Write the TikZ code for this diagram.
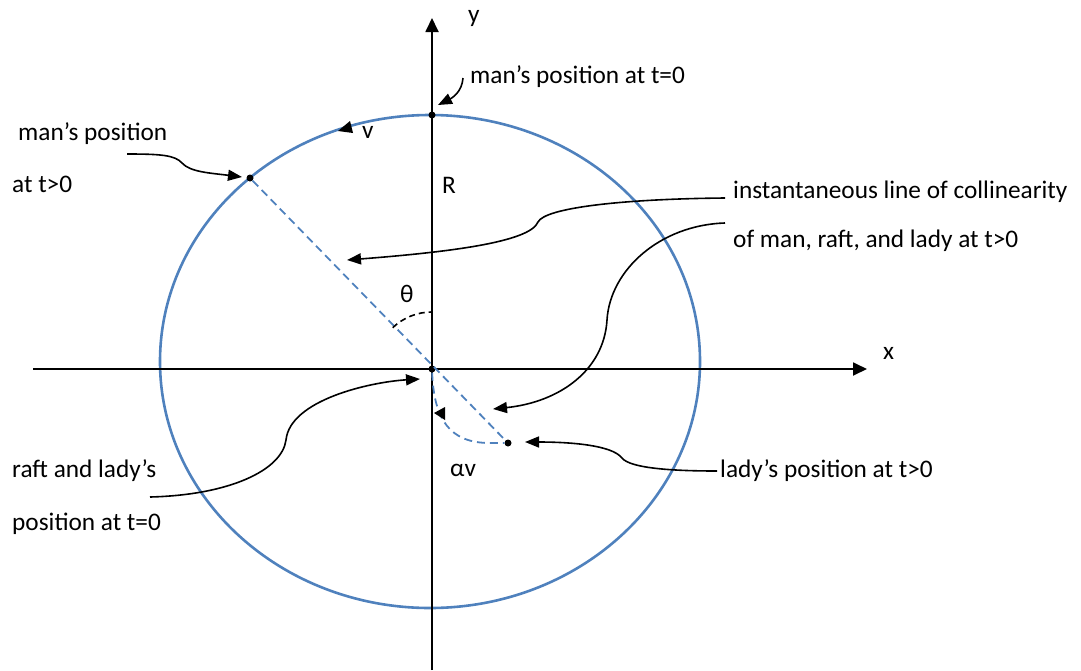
\documentclass[tikz,border=0pt]{standalone}
\usepackage{fontspec}
\setmainfont{Carlito}
\usetikzlibrary{arrows.meta}
\definecolor{RingBlue}{RGB}{79,129,189}

\tikzset{
  lbl/.style={anchor=base west, inner sep=0pt, font=\fontsize{25.3}{30}\selectfont},
  axis/.style={line width=1.8pt, -{Triangle[length=14pt,width=13pt]}},
  callout/.style={line width=1.6pt, -{Triangle[length=14pt,width=11pt]}},
  spot/.style={circle, fill=black, inner sep=0pt, minimum size=7pt},
}

\begin{document}
\begin{tikzpicture}[x=1pt, y=-1pt]
  \useasboundingbox (0,0) rectangle (1081,670);

  % Points
  \coordinate (O) at (432,369);
  \coordinate (xstart) at (33,369);
  \coordinate (xend) at (867,369);
  \coordinate (ystart) at (432,670);
  \coordinate (yend) at (432,18);

  % Circle of radius R
  \draw[RingBlue, line width=2.6pt] (430,361.5) ellipse [x radius=270, y radius=246.5];

  % Axes
  \draw[axis] (xstart) -- (xend);
  \draw[axis] (ystart) -- (yend);
  \node[lbl] (xlab) at (883,359) {x};
  \node[lbl] (ylab) at (468,22) {y};

  % Line of collinearity and lady's path
  \node[spot] (mzero) at (432,115) {};
  \node[spot] (mone) at (250,178) {};
  \node[spot] (raft) at (O) {};
  \node[spot] (lady) at (508,443) {};
  \draw[RingBlue, line width=1.8pt, dash pattern=on 8pt off 5pt] (mone) -- (lady);
  \draw[RingBlue, line width=1.8pt, dash pattern=on 8pt off 5pt]
    (raft) .. controls (434,420) and (450,443) .. (490,443) -- (lady);
  \fill (434,413) -- (445,407) -- (445,420) -- cycle;

  % Angle theta
  \draw[line width=1.6pt, dash pattern=on 6pt off 4pt] (392.7,327.7) arc[start angle=-133.6, end angle=-90, radius=57];
  \node[lbl] (theta) at (400,302) {θ};

  % Speeds and radius
  \fill (338,131) -- (350,121) -- (353,133) -- cycle;
  \node[lbl] (vlab) at (362,138) {v};
  \node[lbl] (Rlab) at (442,193) {R};
  \node[lbl] (avlab) at (450,476) {αv};

  % Labels
  \node[lbl] (mzerotxt) at (470,83) {man’s position at t=0};
  \node[lbl] (monetxt) at (18,140) {man’s position};
  \node[lbl] (monetxtb) at (12,192) {at t>0};
  \node[lbl] (coltxt) at (733,198) {instantaneous line of collinearity};
  \node[lbl] (coltxtb) at (733,247) {of man, raft, and lady at t>0};
  \node[lbl] (rafttxt) at (12,477) {raft and lady’s};
  \node[lbl] (rafttxtb) at (12,530) {position at t=0};
  \node[lbl] (ladytxt) at (720,477) {lady’s position at t>0};

  % Callout arrows
  \coordinate (c1) at (463,78);   \coordinate (t1) at (438,105);
  \coordinate (c2) at (127,154);  \coordinate (t2) at (242,177);
  \coordinate (c3) at (725,198);  \coordinate (t3) at (347,260);
  \coordinate (c4) at (725,223);  \coordinate (t4) at (493,409);
  \coordinate (c5) at (150,497);  \coordinate (t5) at (420,379);
  \coordinate (c6) at (717,471);  \coordinate (t6) at (525,442);
  \draw[callout] (c1) .. controls (462,92) and (452,98) .. (t1);
  \draw[callout] (c2) .. controls (160,154) and (175,155) .. (182,163)
    .. controls (190,172) and (210,173) .. (t2);
  \draw[callout] (c3) .. controls (620,199) and (545,208) .. (538,222)
    .. controls (530,242) and (450,252) .. (t3);
  \draw[callout] (c4) .. controls (660,225) and (610,270) .. (607,320)
    .. controls (604,370) and (560,402) .. (t4);
  \draw[callout] (c5) .. controls (230,495) and (282,470) .. (286,440)
    .. controls (290,400) and (370,382) .. (t5);
  \draw[callout] (c6) .. controls (670,471) and (630,468) .. (622,458)
    .. controls (612,445) and (570,442) .. (t6);
\end{tikzpicture}
\end{document}
